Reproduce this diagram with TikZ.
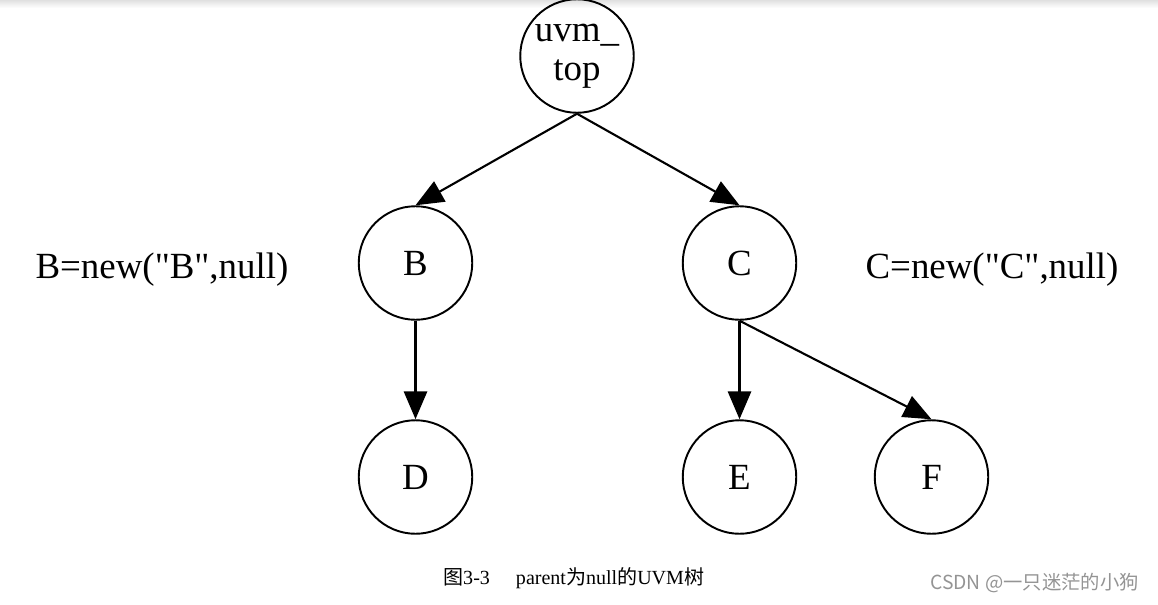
\documentclass[tikz,border=0pt]{standalone}
\usepackage{fontspec}
\setmainfont{Liberation Serif}[Ligatures=TeXOff]
\newfontfamily\cjk{Noto Sans CJK SC}
\usetikzlibrary{arrows.meta}

\tikzset{
  treenode/.style={draw, circle, line width=1.1pt, minimum size=2.27cm,
    inner sep=0pt, align=center, font=\fontsize{21}{25}\selectfont},
  link/.style={line width=1.2pt, -{Triangle[length=0.56cm,width=0.46cm]}},
  thicklink/.style={link, line width=1.8pt},
  newlabel/.style={font=\fontsize{21}{25}\selectfont}
}

\begin{document}
\begin{tikzpicture}
  \useasboundingbox (0,0) rectangle (23.16,12.08);
  \shade[top color=black!12, bottom color=white, draw=none]
    (0,11.92) rectangle (23.16,12.08);

  \node[treenode, font=\fontsize{21}{22}\selectfont] (top) at (11.54,10.96)
    {uvm\_\\top};

  % children of uvm_top, then the leaves
  \foreach \name/\x/\y in {B/8.31/6.82, C/14.79/6.82,
                           D/8.31/2.54, E/14.79/2.54, F/18.63/2.54} {
    \node[treenode] (\name) at (\x,\y) {\name};
  }

  \node[newlabel] (Bnew) at (3.24,6.68) {B=new("B",null)};
  \node[newlabel] (Cnew) at (19.84,6.68) {C=new("C",null)};

  \draw[link] (top.south) -- (B.north);
  \draw[link] (top.south) -- (C.north);
  \draw[thicklink] (B.south) -- (D.north);
  \draw[thicklink] (C.south) -- (E.north);
  \draw[link] (C.south) -- (F.north);

  \node[anchor=west, font=\fontsize{11.4}{13}\selectfont] (caption) at (8.74,0.52)
    {{\cjk 图}3-3\hspace{1.3em}parent{\cjk 为}null{\cjk 的}UVM{\cjk 树}};
  \node[anchor=east, text=black!42, font=\cjk\fontsize{11}{13}\selectfont]
    (mark) at (22.9,0.42) {CSDN @一只迷茫的小狗};
\end{tikzpicture}
\end{document}
